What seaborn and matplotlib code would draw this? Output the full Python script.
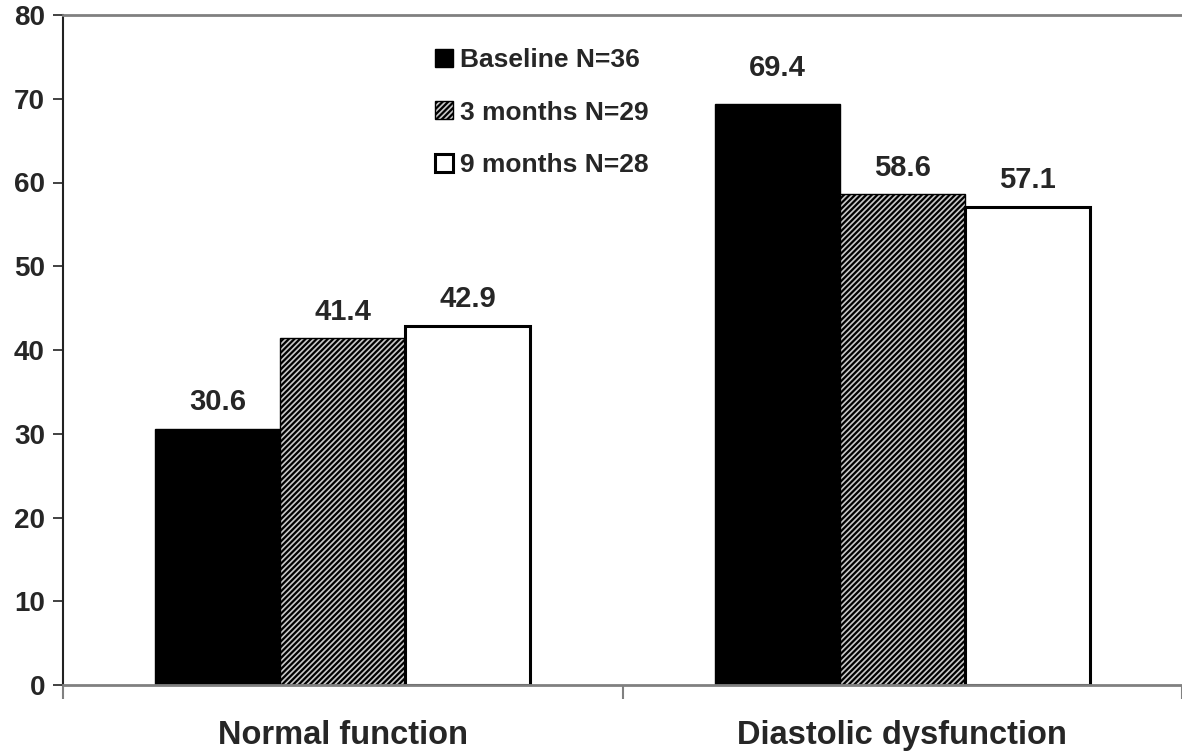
import matplotlib
matplotlib.use("Agg")
import matplotlib.pyplot as plt
import matplotlib.patches as mpatches
import seaborn as sns
import pandas as pd

categories = ["Normal function", "Diastolic dysfunction"]
series_names = ["Baseline N=36", "3 months N=29", "9 months N=28"]
baseline = [30.6, 69.4]
month3 = [41.4, 58.6]
month9 = [42.9, 57.1]
y_ticks = [0, 10, 20, 30, 40, 50, 60, 70, 80]

rows = []
for name, vals in zip(series_names, [baseline, month3, month9]):
    for cat, v in zip(categories, vals):
        rows.append({"category": cat, "series": name, "value": v})
df = pd.DataFrame(rows)

sns.set_style("white")
plt.rcParams["font.family"] = ["Liberation Sans", "DejaVu Sans"]
plt.rcParams["font.weight"] = "bold"
plt.rcParams["hatch.linewidth"] = 1.6
plt.rcParams["hatch.color"] = "black"

fig = plt.figure(figsize=(11.82, 7.56), dpi=100)
ax = fig.add_axes([63 / 1182, 1 - 685 / 756, 1 - 63 / 1182, 670 / 756])

face = ["black", "#c8c8c8", "white"]
sns.barplot(data=df, x="category", y="value", hue="series", order=categories,
            hue_order=series_names, palette=face, width=0.67, dodge=True,
            saturation=1, legend=False, ax=ax)

edge_w = [1.0, 1.0, 2.2]
hatches = [None, "//////", None]
# label gap above each bar (points), per series and category
label_gap = [[9, 16], [9, 9], [9, 9]]
for cont, lw, h, gaps in zip(ax.containers, edge_w, hatches, label_gap):
    for bar, gap in zip(cont, gaps):
        bar.set_edgecolor("black")
        bar.set_linewidth(lw)
        if h:
            bar.set_hatch(h)
        height = bar.get_height()
        ax.annotate(f"{height:.1f}", (bar.get_x() + bar.get_width() / 2, height),
                    xytext=(0, gap), textcoords="offset points",
                    ha="center", va="bottom", fontsize=21, fontweight="bold")

ax.set_ylim(0, 80)
ax.set_xlim(-0.5, 1.5)
ax.set_yticks(y_ticks)
ax.set_yticklabels([str(t) for t in y_ticks], fontsize=20, fontweight="bold")
ax.tick_params(axis="y", direction="out", length=7, width=1.2, color="#222222",
               pad=6, left=True)
ax.set_xticks([0, 1])
ax.set_xticklabels(categories, fontsize=23.5, fontweight="bold")
ax.tick_params(axis="x", which="major", length=0, pad=25)
ax.set_xticks([-0.5, 0.5, 1.5], minor=True)
ax.tick_params(axis="x", which="minor", direction="out", length=10, width=1.5,
               color="#808080", bottom=True)
ax.set_xlabel("")
ax.set_ylabel("")

for side in ["top", "bottom"]:
    ax.spines[side].set_color("#808080")
    ax.spines[side].set_linewidth(2)
ax.spines["left"].set_color("#222222")
ax.spines["left"].set_linewidth(1.5)
ax.spines["right"].set_visible(False)

handles = [mpatches.Patch(facecolor=f, edgecolor="black", hatch=h, linewidth=lw)
           for f, h, lw in zip(face, hatches, edge_w)]
ax.legend(handles, series_names, loc="upper left",
          bbox_to_anchor=(435 / 1182, 1 - 48 / 756),
          bbox_transform=fig.transFigure, frameon=False,
          prop={"size": 19, "weight": "bold"}, handlelength=0.68,
          handleheight=0.68, handletextpad=0.25, labelspacing=1.08,
          borderaxespad=0, borderpad=0)

fig.savefig("out.png", dpi=100, facecolor="white")
